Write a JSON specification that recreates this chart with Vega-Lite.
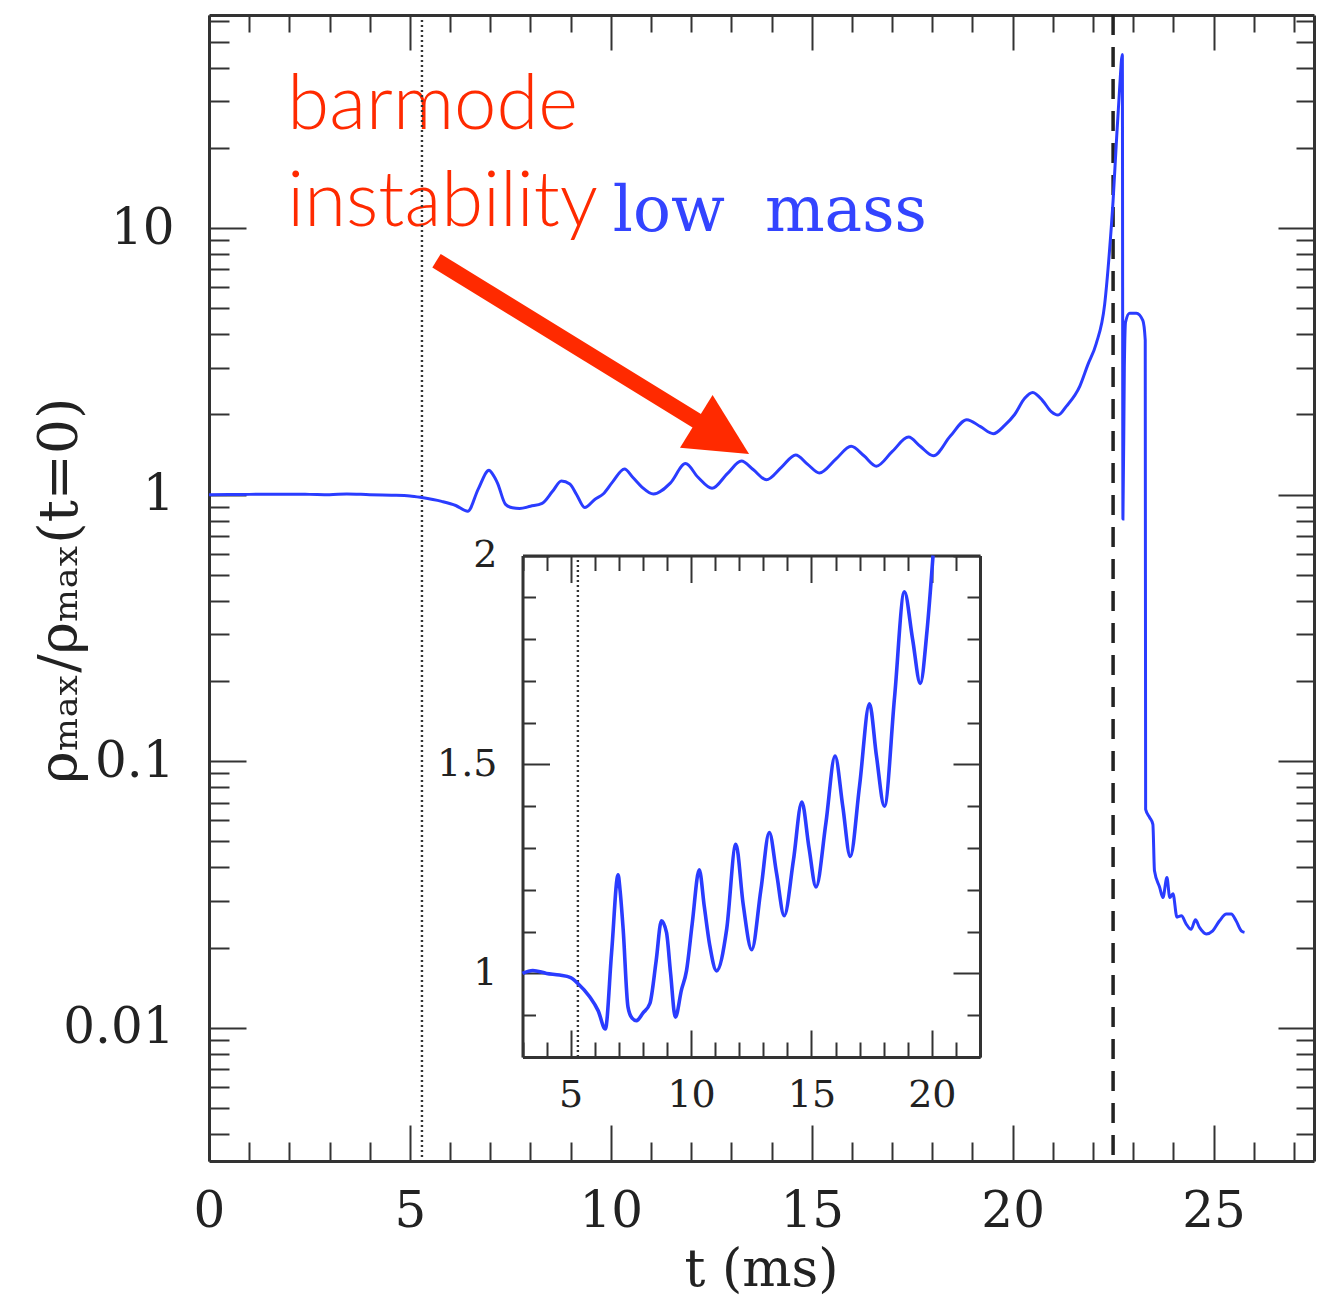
{
  "$schema": "https://vega.github.io/schema/vega-lite/v6.json",
  "width": 1105,
  "height": 1146,
  "autosize": "none",
  "padding": {"left": 209, "top": 15, "right": 9, "bottom": 141},
  "background": "white",
  "config": {"axis": {"grid": false}, "view": {"stroke": null}},
  "datasets": {
    "curve": [
      {"t": 0, "v": 1.0}, {"t": 0.5, "v": 1.002}, {"t": 1, "v": 1.003}, {"t": 1.5, "v": 1.004}, {"t": 2, "v": 1.005}, {"t": 2.5, "v": 1.003},
      {"t": 3, "v": 1.0}, {"t": 3.43, "v": 1.007}, {"t": 4.0, "v": 1.0}, {"t": 4.54, "v": 0.996}, {"t": 5.0, "v": 0.99}, {"t": 5.3, "v": 0.976},
      {"t": 5.79, "v": 0.944}, {"t": 6.14, "v": 0.911}, {"t": 6.44, "v": 0.867}, {"t": 6.7, "v": 1.05}, {"t": 6.97, "v": 1.236}, {"t": 7.05, "v": 1.2},
      {"t": 7.18, "v": 1.106}, {"t": 7.38, "v": 0.92}, {"t": 7.55, "v": 0.893}, {"t": 7.73, "v": 0.887}, {"t": 8.0, "v": 0.905}, {"t": 8.29, "v": 0.928},
      {"t": 8.55, "v": 1.03}, {"t": 8.77, "v": 1.126}, {"t": 8.98, "v": 1.098}, {"t": 9.15, "v": 1.0}, {"t": 9.35, "v": 0.895}, {"t": 9.6, "v": 0.96},
      {"t": 9.81, "v": 1.006}, {"t": 10.05, "v": 1.12}, {"t": 10.34, "v": 1.248}, {"t": 10.55, "v": 1.16}, {"t": 10.78, "v": 1.066}, {"t": 11.06, "v": 1.006},
      {"t": 11.48, "v": 1.106}, {"t": 11.86, "v": 1.309}, {"t": 12.17, "v": 1.163}, {"t": 12.52, "v": 1.057}, {"t": 12.9, "v": 1.2}, {"t": 13.25, "v": 1.337},
      {"t": 13.55, "v": 1.24}, {"t": 13.87, "v": 1.138}, {"t": 14.25, "v": 1.27}, {"t": 14.6, "v": 1.41}, {"t": 14.9, "v": 1.3}, {"t": 15.19, "v": 1.207},
      {"t": 15.6, "v": 1.36}, {"t": 15.98, "v": 1.52}, {"t": 16.3, "v": 1.4}, {"t": 16.61, "v": 1.28}, {"t": 17.0, "v": 1.45}, {"t": 17.41, "v": 1.645},
      {"t": 17.7, "v": 1.52}, {"t": 18.03, "v": 1.4}, {"t": 18.45, "v": 1.66}, {"t": 18.86, "v": 1.913}, {"t": 19.2, "v": 1.8}, {"t": 19.52, "v": 1.694},
      {"t": 19.8, "v": 1.82}, {"t": 20.05, "v": 2.0}, {"t": 20.3, "v": 2.3}, {"t": 20.5, "v": 2.42}, {"t": 20.75, "v": 2.25}, {"t": 20.96, "v": 2.05},
      {"t": 21.13, "v": 1.99}, {"t": 21.34, "v": 2.15}, {"t": 21.67, "v": 2.55}, {"t": 21.87, "v": 3.07}, {"t": 22.08, "v": 3.69}, {"t": 22.29, "v": 5.18},
      {"t": 22.41, "v": 8.2}, {"t": 22.5, "v": 12.7}, {"t": 22.58, "v": 20.8}, {"t": 22.66, "v": 33}, {"t": 22.73, "v": 44.9}, {"t": 22.745, "v": 0.81},
      {"t": 22.78, "v": 3.0}, {"t": 22.81, "v": 4.44}, {"t": 22.91, "v": 4.8}, {"t": 23.08, "v": 4.8}, {"t": 23.24, "v": 4.51}, {"t": 23.3, "v": 3.8},
      {"t": 23.31, "v": 0.066}, {"t": 23.41, "v": 0.0615}, {"t": 23.49, "v": 0.058}, {"t": 23.53, "v": 0.0388}, {"t": 23.66, "v": 0.0336}, {"t": 23.74, "v": 0.0308},
      {"t": 23.84, "v": 0.0366}, {"t": 23.91, "v": 0.0308}, {"t": 23.99, "v": 0.0318}, {"t": 24.09, "v": 0.026}, {"t": 24.2, "v": 0.0263}, {"t": 24.32, "v": 0.0245},
      {"t": 24.44, "v": 0.0234}, {"t": 24.55, "v": 0.0254}, {"t": 24.65, "v": 0.0238}, {"t": 24.82, "v": 0.0225}, {"t": 24.98, "v": 0.0231}, {"t": 25.15, "v": 0.0252},
      {"t": 25.32, "v": 0.0267}, {"t": 25.44, "v": 0.0267}, {"t": 25.56, "v": 0.0252}, {"t": 25.69, "v": 0.0231}, {"t": 25.77, "v": 0.0228}
    ]
  },
  "layer": [
    {
      "layer": [
        {
          "data": {"values": [{"t": 1.95, "v": 23.6, "label": "barmode"}, {"t": 1.95, "v": 10.2, "label": "instability"}]},
          "mark": {"type": "text", "align": "left", "baseline": "alphabetic", "font": "Lato", "fontWeight": 300, "fontSize": 76, "color": "#ff2a00"},
          "encoding": {
            "x": {"field": "t", "type": "quantitative", "scale": {"domain": [0, 27.5], "nice": false, "zero": false},
              "axis": {"orient": "top", "values": [0,1,2,3,4,5,6,7,8,9,10,11,12,13,14,15,16,17,18,19,20,21,22,23,24,25,26,27],
                "tickSize": -35, "tickWidth": 2, "tickColor": "#333",
                "tickDash": {"condition": {"test": "datum.value % 5 === 0", "value": [35, 300]}, "value": [17, 300]},
                "domainWidth": 3, "domainColor": "#333", "labels": false, "title": null}},
            "y": {"field": "v", "type": "quantitative", "scale": {"type": "log", "domain": [0.0031623, 63.0957], "nice": false},
              "axis": {"orient": "right", "values": [0.004,0.005,0.006,0.007,0.008,0.009,0.01,0.02,0.03,0.04,0.05,0.06,0.07,0.08,0.09,0.1,0.2,0.3,0.4,0.5,0.6,0.7,0.8,0.9,1,2,3,4,5,6,7,8,9,10,20,30,40,50,60],
                "tickSize": -36, "tickWidth": 2, "tickColor": "#333",
                "tickDash": {"condition": {"test": "datum.value === 0.01 || datum.value === 0.1 || datum.value === 1 || datum.value === 10", "value": [36, 300]}, "value": [18, 300]},
                "domainWidth": 3, "domainColor": "#333", "labels": false, "title": null}},
            "text": {"field": "label", "type": "nominal"}
          }
        },
        {
          "data": {"values": [{"t": 10.05, "v": 9.79, "label": "low\u00a0\u00a0mass"}]},
          "mark": {"type": "text", "align": "left", "baseline": "alphabetic", "font": "DejaVu Serif", "fontSize": 63, "color": "#3344ff"},
          "encoding": {
            "x": {"field": "t", "type": "quantitative", "scale": {"domain": [0, 27.5], "nice": false, "zero": false}, "axis": null},
            "y": {"field": "v", "type": "quantitative", "scale": {"type": "log", "domain": [0.0031623, 63.0957], "nice": false}, "axis": null},
            "text": {"field": "label", "type": "nominal"}
          }
        },
        {
          "data": {"values": [{"t": 5.662, "v": 7.55, "t2": 12.34, "v2": 1.815}]},
          "mark": {"type": "rule", "color": "#ff2a00", "strokeWidth": 16, "strokeCap": "butt"},
          "encoding": {
            "x": {"field": "t", "type": "quantitative", "scale": {"domain": [0, 27.5], "nice": false, "zero": false}, "axis": null},
            "y": {"field": "v", "type": "quantitative", "scale": {"type": "log", "domain": [0.0031623, 63.0957], "nice": false}, "axis": null},
            "x2": {"field": "t2"},
            "y2": {"field": "v2"}
          }
        },
        {
          "data": {"values": [{"t": 13.44, "v": 1.421}]},
          "mark": {"type": "point", "shape": "M0,0L1,2L-1,2Z", "size": 3844, "angle": 121.7, "filled": true, "color": "#ff2a00", "opacity": 1, "strokeWidth": 0},
          "encoding": {
            "x": {"field": "t", "type": "quantitative", "scale": {"domain": [0, 27.5], "nice": false, "zero": false}, "axis": null},
            "y": {"field": "v", "type": "quantitative", "scale": {"type": "log", "domain": [0.0031623, 63.0957], "nice": false}, "axis": null}
          }
        },
        {
          "data": {"values": [{"t": 5.3}]},
          "mark": {"type": "rule", "color": "#333", "strokeWidth": 2.4, "strokeDash": [2, 3]},
          "encoding": {
            "x": {"field": "t", "type": "quantitative", "scale": {"domain": [0, 27.5], "nice": false, "zero": false}, "axis": null}
          }
        },
        {
          "data": {"values": [{"t": 22.5}]},
          "mark": {"type": "rule", "color": "#222", "strokeWidth": 3.5, "strokeDash": [20, 12]},
          "encoding": {
            "x": {"field": "t", "type": "quantitative", "scale": {"domain": [0, 27.5], "nice": false, "zero": false}, "axis": null}
          }
        },
        {
          "data": {"name": "curve"},
          "mark": {"type": "line", "color": "#2a3cff", "strokeWidth": 3, "interpolate": "monotone"},
          "encoding": {
            "x": {"field": "t", "type": "quantitative", "scale": {"domain": [0, 27.5], "nice": false, "zero": false},
              "axis": {"orient": "bottom", "values": [0,1,2,3,4,5,6,7,8,9,10,11,12,13,14,15,16,17,18,19,20,21,22,23,24,25,26,27],
                "tickSize": -36, "tickWidth": 2, "tickColor": "#333",
                "tickDash": {"condition": {"test": "datum.value % 5 === 0", "value": [36, 300]}, "value": [19, 300]},
                "domainWidth": 3, "domainColor": "#333",
                "labelExpr": "datum.value % 5 === 0 ? datum.label : ''",
                "labelFont": "DejaVu Serif", "labelFontSize": 50, "labelColor": "#222", "labelBaseline": "alphabetic",
                "labelPadding": 101.7, "labelOverlap": false, "labelFlush": false,
                "title": "t  (ms)", "titleFont": "DejaVu Serif", "titleFontSize": 52, "titleFontWeight": "normal", "titleColor": "#222",
                "titleX": 552, "titleY": 124, "titleBaseline": "alphabetic", "titleAlign": "center", "titleAngle": 0}},
            "y": {"field": "v", "type": "quantitative", "scale": {"type": "log", "domain": [0.0031623, 63.0957], "nice": false},
              "axis": {"orient": "left", "values": [0.004,0.005,0.006,0.007,0.008,0.009,0.01,0.02,0.03,0.04,0.05,0.06,0.07,0.08,0.09,0.1,0.2,0.3,0.4,0.5,0.6,0.7,0.8,0.9,1,2,3,4,5,6,7,8,9,10,20,30,40,50,60],
                "tickSize": -37, "tickWidth": 2, "tickColor": "#333",
                "tickDash": {"condition": {"test": "datum.value === 0.01 || datum.value === 0.1 || datum.value === 1 || datum.value === 10", "value": [37, 300]}, "value": [20, 300]},
                "domainWidth": 3, "domainColor": "#333",
                "labelExpr": "datum.value === 10 ? '10' : datum.value === 1 ? '1' : datum.value === 0.1 ? '0.1' : datum.value === 0.01 ? '0.01' : ''",
                "labelFont": "DejaVu Serif", "labelFontSize": 50, "labelColor": "#222", "labelPadding": 72, "labelOverlap": false, "labelFlush": false,
                "title": "ρₘₐₓ/ρₘₐₓ(t=0)", "titleFont": "DejaVu Serif", "titleFontSize": 55, "titleFontWeight": "normal", "titleColor": "#222",
                "titleX": -133, "titleY": 575, "titleAngle": -90, "titleBaseline": "alphabetic", "titleAlign": "center"}}
          }
        }
      ],
      "resolve": {"axis": {"x": "independent", "y": "independent"}}
    },
    {
      "layer": [
        {
          "data": {"values": [{"t": 5.3, "y0": 0.8, "y1": 2.0}]},
          "mark": {"type": "rule", "color": "#333", "strokeWidth": 2.4, "strokeDash": [2, 3]},
          "encoding": {
            "x": {"field": "t", "type": "quantitative", "scale": {"domain": [3, 22], "range": [313.5, 771], "nice": false, "zero": false},
              "axis": {"orient": "top", "offset": -540.5, "values": [3,4,5,6,7,8,9,10,11,12,13,14,15,16,17,18,19,20,21,22],
                "tickSize": -27, "tickWidth": 2, "tickColor": "#333",
                "tickDash": {"condition": {"test": "datum.value % 5 === 0", "value": [27, 300]}, "value": [15, 300]},
                "domainWidth": 3, "domainColor": "#333", "labels": false, "title": null}},
            "y": {"field": "y0", "type": "quantitative", "scale": {"domain": [0.8, 2], "range": [1042, 540.5], "nice": false, "zero": false},
              "axis": {"orient": "right", "offset": -334, "values": [0.8,0.9,1,1.1,1.2,1.3,1.4,1.5,1.6,1.7,1.8,1.9,2],
                "tickSize": -27, "tickWidth": 2, "tickColor": "#333",
                "tickDash": {"condition": {"test": "datum.value === 1 || datum.value === 1.5 || datum.value === 2", "value": [27, 300]}, "value": [13, 300]},
                "domainWidth": 3, "domainColor": "#333", "labels": false, "title": null}},
            "y2": {"field": "y1"}
          }
        },
        {
          "data": {"name": "curve"},
          "transform": [{"filter": "datum.t >= 3 && datum.t <= 20.05"}],
          "mark": {"type": "line", "color": "#2a3cff", "strokeWidth": 3.6, "interpolate": "monotone"},
          "encoding": {
            "x": {"field": "t", "type": "quantitative", "scale": {"domain": [3, 22], "range": [313.5, 771], "nice": false, "zero": false},
              "axis": {"orient": "bottom", "offset": -104, "values": [3,4,5,6,7,8,9,10,11,12,13,14,15,16,17,18,19,20,21,22],
                "tickSize": -27, "tickWidth": 2, "tickColor": "#333",
                "tickDash": {"condition": {"test": "datum.value % 5 === 0", "value": [27, 300]}, "value": [15, 300]},
                "domainWidth": 3, "domainColor": "#333",
                "labelExpr": "datum.value % 5 === 0 ? datum.label : ''",
                "labelFont": "DejaVu Serif", "labelFontSize": 38, "labelColor": "#222", "labelBaseline": "alphabetic",
                "labelPadding": 76.7, "labelOverlap": false, "labelFlush": false, "title": null}},
            "y": {"field": "v", "type": "quantitative", "scale": {"domain": [0.8, 2], "range": [1042, 540.5], "nice": false, "zero": false},
              "axis": {"orient": "left", "offset": -313.5, "values": [0.8,0.9,1,1.1,1.2,1.3,1.4,1.5,1.6,1.7,1.8,1.9,2],
                "tickSize": -27, "tickWidth": 2, "tickColor": "#333",
                "tickDash": {"condition": {"test": "datum.value === 1 || datum.value === 1.5 || datum.value === 2", "value": [27, 300]}, "value": [13, 300]},
                "domainWidth": 3, "domainColor": "#333",
                "labelExpr": "datum.value === 1 ? '1' : datum.value === 1.5 ? '1.5' : datum.value === 2 ? '2' : ''",
                "labelFont": "DejaVu Serif", "labelFontSize": 38, "labelColor": "#222", "labelPadding": 52.5,
                "labelOverlap": false, "labelFlush": false, "title": null}}
          }
        }
      ],
      "resolve": {"axis": {"x": "independent", "y": "independent"}}
    }
  ],
  "resolve": {"scale": {"x": "independent", "y": "independent"}, "axis": {"x": "independent", "y": "independent"}}
}
